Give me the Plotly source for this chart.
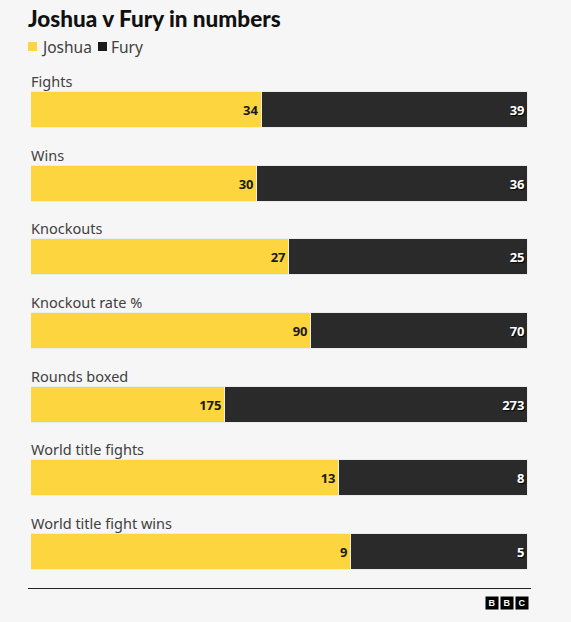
import plotly.graph_objects as go

categories = ["Fights", "Wins", "Knockouts", "Knockout rate %", "Rounds boxed",
              "World title fights", "World title fight wins"]
joshua = [34, 30, 27, 90, 175, 13, 9]
fury = [39, 36, 25, 70, 273, 8, 5]

YELLOW = "#FDD53F"
DARK = "#2A2A2A"
BG = "#F6F6F6"
FONT = "Noto Sans"

W, H = 571, 622
L, R, T, B = 31, 43, 73, 33
PW, PH = W - L - R, H - T - B


def px(x):
    return (x - L) / PW


def py(y):
    return (H - B - y) / PH


share_j = [j / (j + f) for j, f in zip(joshua, fury)]
share_f = [f / (j + f) for j, f in zip(joshua, fury)]
ys = list(range(len(categories)))
bw = 0.49

fig = go.Figure()
fig.add_trace(go.Bar(
    y=ys, x=share_j, orientation="h", width=bw, name="Joshua",
    marker=dict(color=YELLOW, line=dict(color="#ececec", width=1)),
    text=joshua, textposition="inside", insidetextanchor="end",
    textfont=dict(family=FONT, size=13, color="#1a1a1a", weight=700),
    hoverinfo="skip",
))
fig.add_trace(go.Bar(
    y=ys, x=share_f, orientation="h", width=bw, name="Fury",
    marker=dict(color=DARK, line=dict(color="#ececec", width=1)),
    text=fury, textposition="inside", insidetextanchor="end",
    textfont=dict(family=FONT, size=13, color="white", weight=700,
                  shadow="1px 1px 1px black"),
    hoverinfo="skip",
))

# category labels above each bar
for i, c in enumerate(categories):
    fig.add_annotation(x=0, y=i - bw / 2, xref="paper", yref="y",
                       text=c, showarrow=False, xanchor="left", yanchor="bottom",
                       xshift=-2, yshift=-1,
                       font=dict(family=FONT, size=14.5, color="#404040"))

# legend: squares + names
legend = [("Joshua", YELLOW, 28, 41), ("Fury", "#1a1a1a", 98, 111)]
for name, col, sx, tx in legend:
    fig.add_shape(type="rect", xref="paper", yref="paper",
                  x0=px(sx), x1=px(sx + 9), y0=py(51), y1=py(42),
                  fillcolor=col, line=dict(width=0))
    fig.add_annotation(x=px(tx), y=py(47), xref="paper", yref="paper",
                       text=name, showarrow=False, xanchor="left", yanchor="middle",
                       xshift=-2, font=dict(family=FONT, size=15.5, color="#404040"))

# bottom rule
fig.add_shape(type="line", xref="paper", yref="paper",
              x0=px(28), x1=px(531), y0=py(588.5), y1=py(588.5),
              line=dict(color="#222222", width=1))

# BBC blocks
for k, letter in enumerate("BBC"):
    x0 = 486 + k * 15
    fig.add_annotation(x=px(x0 + 6), y=py(603), xref="paper", yref="paper",
                       text=f"<b>{letter}</b>", showarrow=False,
                       width=12, height=12, bgcolor="black", borderpad=0,
                       xanchor="center", yanchor="middle",
                       font=dict(family="Liberation Sans", size=9, color="white"))

fig.update_layout(
    width=W, height=H,
    margin=dict(l=L, r=R, t=T, b=B),
    barmode="stack", bargap=0,
    paper_bgcolor=BG, plot_bgcolor=BG,
    showlegend=False,
    title=dict(text="Joshua v Fury in numbers", xref="container", yref="container",
               x=28 / W, y=1 - 19 / H, xanchor="left", yanchor="middle",
               font=dict(family="Lato", size=22.5, color="#111111", weight=900)),
    xaxis=dict(range=[0, 1], visible=False, fixedrange=True),
    yaxis=dict(range=[len(categories) - 0.5, -0.5], visible=False, fixedrange=True),
    uniformtext=dict(minsize=9, mode="show"),
)

fig.write_html("out.html", config={"displayModeBar": False},
               post_script="document.body.style.margin='0';")
